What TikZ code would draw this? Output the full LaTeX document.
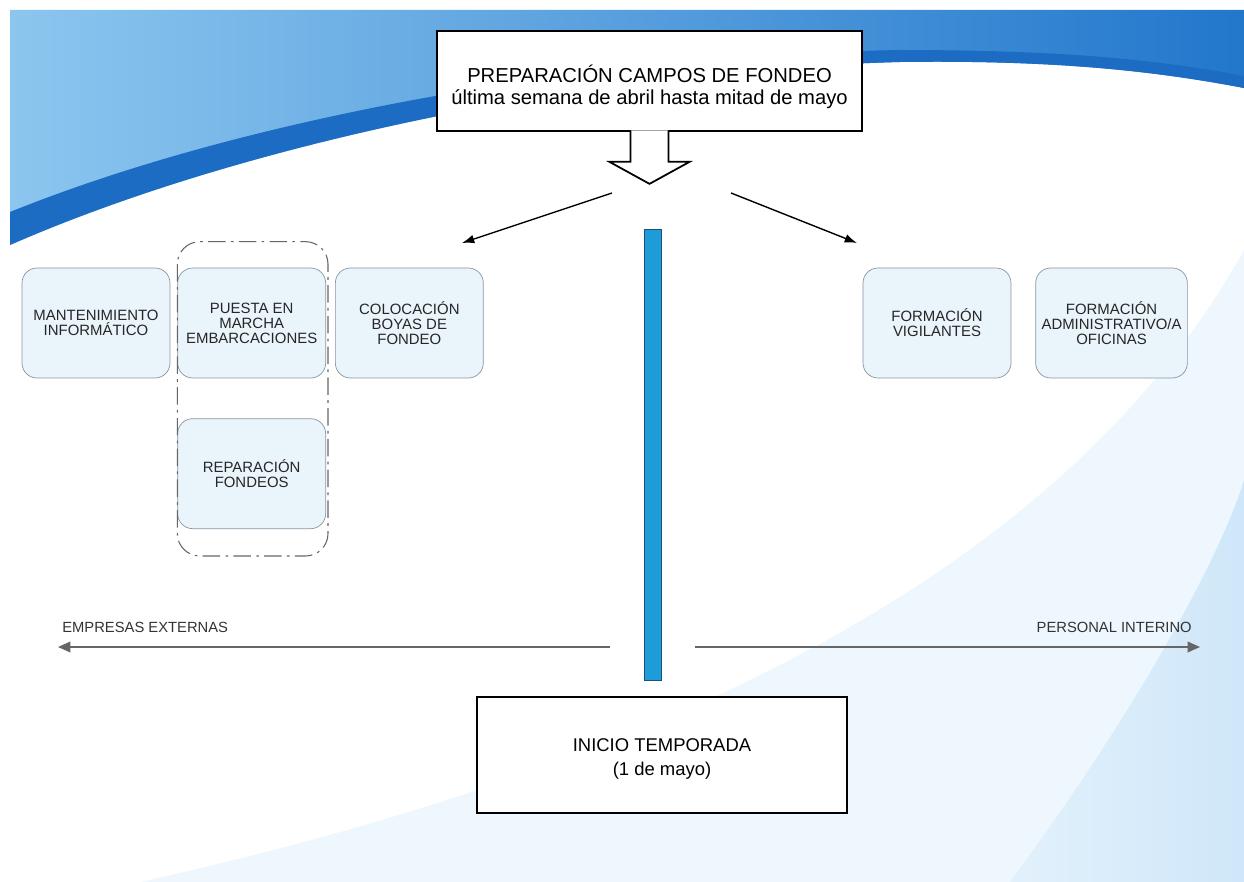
\documentclass[tikz,border=0pt]{standalone}
\usepackage{fontspec}
\setmainfont{Liberation Sans}
\usetikzlibrary{positioning,arrows.meta}
\definecolor{boxfill}{HTML}{EAF4FB}
\definecolor{boxline}{HTML}{8A96A2}
\definecolor{barfill}{HTML}{1E9CD8}
\definecolor{barline}{HTML}{1C4E7E}
\definecolor{skyl}{HTML}{8CC6EF}
\definecolor{skyd}{HTML}{2277CC}
\definecolor{band}{HTML}{1C6CC4}
\definecolor{paleb}{HTML}{EEF7FD}
\definecolor{softb}{HTML}{CFE7F9}
\begin{document}
\begin{tikzpicture}[x=0.02cm,y=-0.02cm,
    tarea/.style={draw=boxline, fill=boxfill, rounded corners=0.3cm,
      minimum width=2.96cm, minimum height=2.2cm, align=center,
      text=black!85, font=\fontsize{8.5}{8.5}\selectfont},
    hito/.style={draw, line width=1pt, fill=white},
    grupo/.style={draw=black!60, line width=0.6pt, rounded corners=0.45cm,
      dash pattern=on 10pt off 3pt on 1.5pt off 3pt},
    flecha/.style={-{Latex[length=7pt,width=5pt]}, line width=0.8pt},
    lado/.style={draw=black!60, line width=1pt, -{Triangle[length=7pt,width=6pt]}},
    etiq/.style={text=black!80, font=\fontsize{8.4}{8.4}\selectfont, inner sep=0pt}]
  \useasboundingbox (0,0) rectangle (1244,882);
  \fill[white] (0,0) rectangle (1244,882);

  % fondo
  \shade[left color=skyl, right color=skyd]
    (10,10) -- (1244,10) -- (1244,88)
    .. controls (1150,70) and (1050,60) .. (900,62)
    .. controls (600,70) and (250,140) .. (10,245) -- cycle;
  \fill[band]
    (10,245) .. controls (250,140) and (600,70) .. (900,62)
    .. controls (1050,60) and (1150,70) .. (1244,88)
    -- (1244,76) .. controls (1150,58) and (1050,50) .. (900,50)
    .. controls (600,55) and (250,115) .. (10,212) -- cycle;
  \fill[paleb] (140,882) .. controls (600,780) and (1050,600) .. (1244,250)
    -- (1244,882) -- cycle;
  \shade[left color=softb!60, right color=softb]
    (1010,882) .. controls (1130,720) and (1220,560) .. (1244,480)
    -- (1244,882) -- cycle;

  % campos de fondeo
  \node[hito, minimum width=8.5cm, minimum height=2cm] (prep) at (649.5,81) {};
  \node[align=center, font=\fontsize{11.5}{12.5}\selectfont]
    (preptxt) at ([yshift=-0.12cm]prep.center)
    {PREPARACIÓN CAMPOS DE FONDEO\\última semana de abril hasta mitad de mayo};
  \draw[line width=1pt, fill=white] ([xshift=-0.38cm,yshift=0.03cm]prep.south)
    -- ++(0,31.5) -- ++(-21,0) -- ++(40,22) -- ++(40,-22) -- ++(-21,0) -- ++(0,-31.5);

  \coordinate (bifl) at (612,193);
  \coordinate (bifr) at (731,193);
  \coordinate (izq) at (462,243);
  \coordinate (der) at (857,243);
  \draw[flecha] (bifl) -- (izq);
  \draw[flecha] (bifr) -- (der);

  \node[draw=barline, fill=barfill, minimum width=0.34cm, minimum height=9.02cm,
    inner sep=0pt] (eje) at (652.5,454.5) {};

  % tareas
  \node[tarea] (mant) at (96,323) {MANTENIMIENTO\\INFORMÁTICO};
  \node[tarea, right=0.14cm of mant] (puesta) {PUESTA EN\\MARCHA\\EMBARCACIONES};
  \node[tarea, right=0.18cm of puesta] (coloc) {COLOCACIÓN\\BOYAS DE\\FONDEO};
  \node[tarea, below=0.8cm of puesta] (repar) {REPARACIÓN\\FONDEOS};
  \draw[grupo] ([yshift=0.52cm]puesta.north west)
    rectangle ([xshift=0.04cm,yshift=-0.54cm]repar.south east);

  \node[tarea] (vigil) at (937,323) {FORMACIÓN\\VIGILANTES};
  \node[tarea, right=0.48cm of vigil] (admin) {FORMACIÓN\\ADMINISTRATIVO/A\\OFICINAS};

  % lados
  \coordinate (eo) at (610,647);
  \coordinate (ee) at (58,647);
  \coordinate (io) at (695,647);
  \coordinate (ie) at (1200,647);
  \draw[lado] (eo) -- (ee);
  \draw[lado] (io) -- (ie);
  \node[etiq, anchor=west] (lext) at (62,627) {EMPRESAS EXTERNAS};
  \node[etiq, anchor=east] (lint) at (1192,627) {PERSONAL INTERINO};

  \node[hito, minimum width=7.4cm, minimum height=2.32cm] (inicio) at (662,755) {};
  \node[align=center, font=\fontsize{10.5}{14}\selectfont]
    (iniciotxt) at ([yshift=-0.08cm]inicio.center)
    {INICIO TEMPORADA\\(1 de mayo)};
\end{tikzpicture}
\end{document}
